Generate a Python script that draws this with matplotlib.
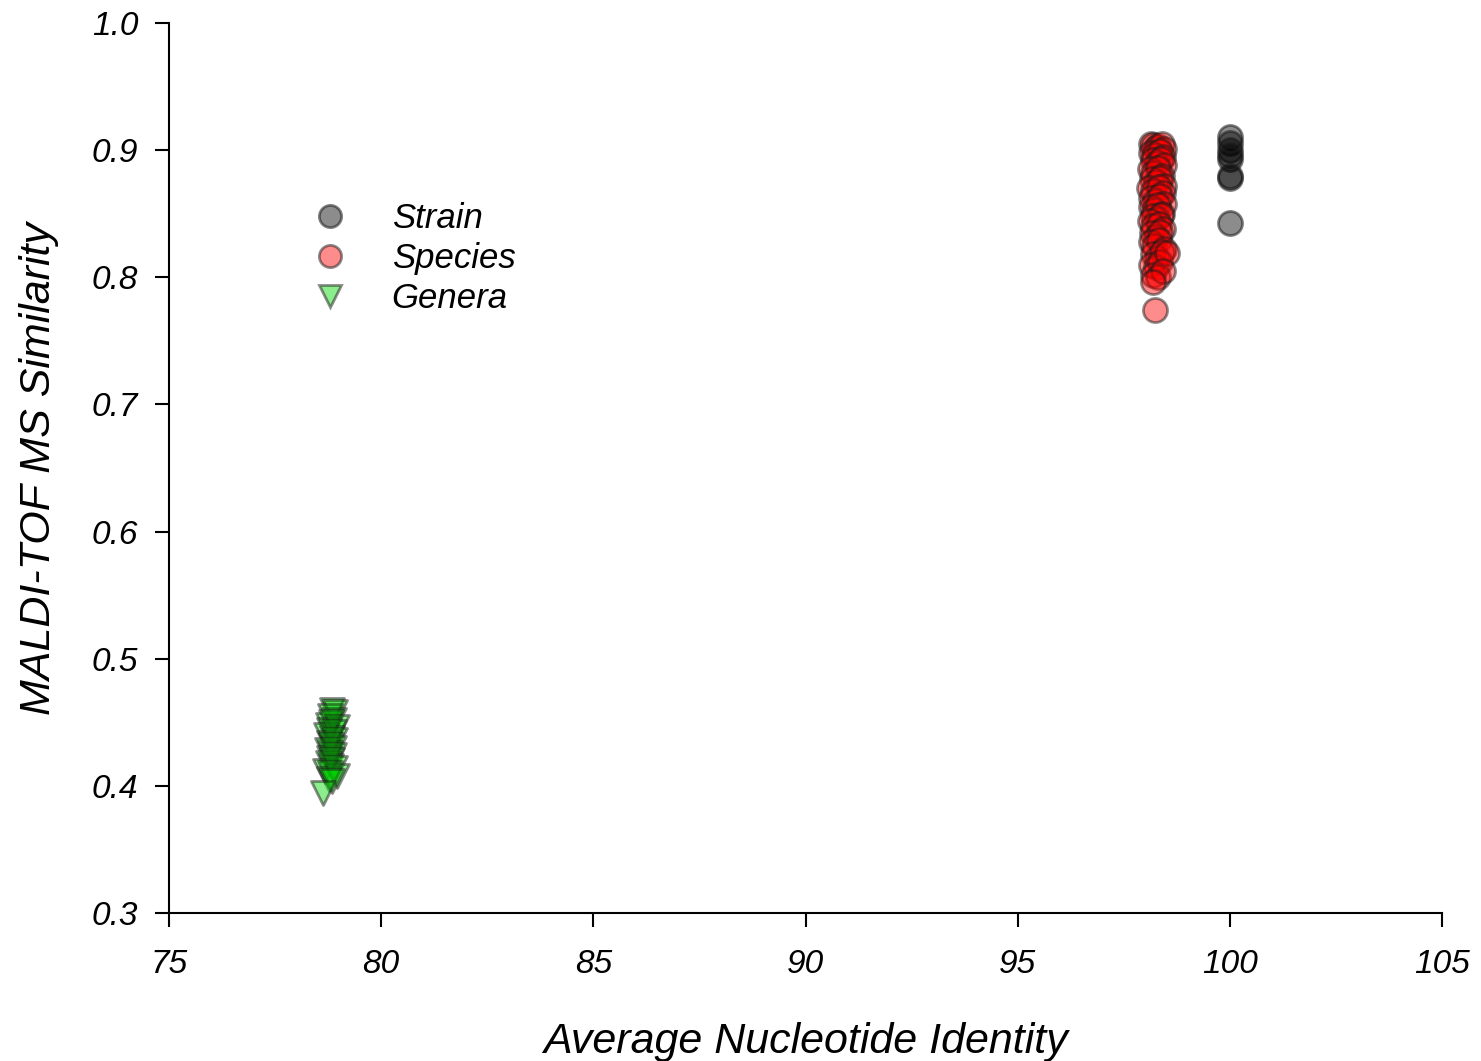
import matplotlib.pyplot as plt
import matplotlib.lines as mlines

plt.rcParams['font.family'] = ['Liberation Sans', 'DejaVu Sans']
plt.rcParams['font.style'] = 'italic'

# strain pairs (ANI ~100)
strain_x = [100.0, 100.0, 100.0, 100.0, 100.0, 100.0, 100.0, 100.0]
strain_y = [0.910, 0.906, 0.900, 0.896, 0.893, 0.880, 0.878, 0.843]

# species pairs (ANI ~98.1-98.5)
species_x = [98.15, 98.20, 98.25, 98.30, 98.40, 98.45, 98.15, 98.22, 98.35, 98.42,
             98.18, 98.28, 98.38, 98.45, 98.12, 98.20, 98.30, 98.40, 98.16, 98.25,
             98.35, 98.44, 98.10, 98.20, 98.32, 98.42, 98.15, 98.24, 98.36, 98.45,
             98.13, 98.22, 98.30, 98.40, 98.18, 98.28, 98.38, 98.12, 98.20, 98.34,
             98.42, 98.16, 98.26, 98.36, 98.14, 98.22, 98.32, 98.44, 98.18, 98.28,
             98.40, 98.15, 98.25, 98.35, 98.52, 98.20, 98.30, 98.42, 98.18, 98.24]
species_y = [0.905, 0.904, 0.902, 0.903, 0.905, 0.901, 0.898, 0.896, 0.899, 0.895,
             0.892, 0.890, 0.893, 0.888, 0.885, 0.882, 0.886, 0.880, 0.877, 0.875,
             0.878, 0.872, 0.870, 0.868, 0.871, 0.866, 0.862, 0.860, 0.864, 0.858,
             0.855, 0.853, 0.857, 0.850, 0.848, 0.846, 0.849, 0.844, 0.840, 0.842,
             0.838, 0.835, 0.832, 0.836, 0.828, 0.825, 0.829, 0.822, 0.818, 0.815,
             0.820, 0.810, 0.808, 0.812, 0.819, 0.802, 0.800, 0.805, 0.796, 0.774]

# genera pairs (ANI ~78.7-78.9)
genera_x = [78.85, 78.92, 78.80, 78.90, 78.75, 78.82, 78.95, 78.78, 78.88, 78.70,
            78.84, 78.92, 78.76, 78.82, 78.90, 78.72, 78.80, 78.88, 78.78, 78.84,
            78.74, 78.82, 78.92, 78.68, 78.80, 78.95, 78.76, 78.85, 78.62]
genera_y = [0.460, 0.458, 0.455, 0.452, 0.448, 0.450, 0.446, 0.444, 0.442, 0.440,
            0.438, 0.436, 0.434, 0.432, 0.430, 0.428, 0.426, 0.424, 0.422, 0.420,
            0.418, 0.416, 0.414, 0.412, 0.410, 0.408, 0.405, 0.404, 0.394]

fig = plt.figure(figsize=(14.81, 10.61), dpi=100)
ax = fig.add_axes([0.1141, 0.1395, 0.8596, 0.8388])

ms = 300
ax.scatter(strain_x, strain_y, s=ms, marker='o', facecolor=(0, 0, 0, 0.45),
           edgecolor=(0.1, 0.1, 0.1, 0.55), linewidth=2, zorder=3)
ax.scatter(species_x, species_y, s=ms, marker='o', facecolor=(1, 0, 0, 0.45),
           edgecolor=(0.1, 0.1, 0.1, 0.5), linewidth=2, zorder=3)
ax.scatter(genera_x, genera_y, s=ms, marker='v', facecolor=(0, 0.85, 0, 0.45),
           edgecolor=(0.1, 0.1, 0.1, 0.5), linewidth=2, zorder=3)

ax.set_xlim(75, 105)
ax.set_ylim(0.3, 1.0)
ax.set_xticks(range(75, 106, 5))
ax.set_yticks([0.3, 0.4, 0.5, 0.6, 0.7, 0.8, 0.9, 1.0])
ax.set_yticklabels(['0.3', '0.4', '0.5', '0.6', '0.7', '0.8', '0.9', '1.0'])
ax.spines['top'].set_visible(False)
ax.spines['right'].set_visible(False)
ax.spines['left'].set_linewidth(1.5)
ax.spines['bottom'].set_linewidth(1.5)
ax.tick_params(direction='out', length=10, width=1.5, labelsize=24)
ax.tick_params(axis='x', pad=16)
ax.tick_params(axis='y', pad=12)

ax.set_xlabel('Average Nucleotide Identity', fontsize=31, labelpad=30)
ax.set_ylabel('MALDI-TOF MS Similarity', fontsize=31, labelpad=24)

h1 = mlines.Line2D([], [], linestyle='none', marker='o', markersize=16,
                   markerfacecolor=(0, 0, 0, 0.45), markeredgecolor=(0.1, 0.1, 0.1, 0.55), markeredgewidth=2)
h2 = mlines.Line2D([], [], linestyle='none', marker='o', markersize=16,
                   markerfacecolor=(1, 0, 0, 0.45), markeredgecolor=(0.1, 0.1, 0.1, 0.5), markeredgewidth=2)
h3 = mlines.Line2D([], [], linestyle='none', marker='v', markersize=16,
                   markerfacecolor=(0, 0.85, 0, 0.45), markeredgecolor=(0.1, 0.1, 0.1, 0.5), markeredgewidth=2)
ax.legend([h1, h2, h3], ['Strain', 'Species', 'Genera'], loc='upper left',
          bbox_to_anchor=(0.099, 0.799), frameon=False, fontsize=25,
          handletextpad=0.78, labelspacing=0.2, borderpad=0, borderaxespad=0)

fig.savefig('out.png', dpi=100)
